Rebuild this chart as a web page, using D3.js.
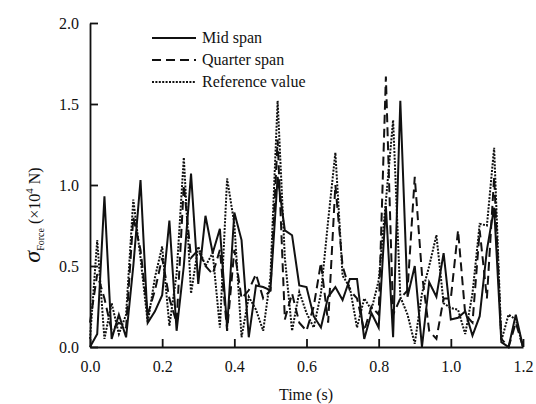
<!DOCTYPE html>
<html lang="en">
<head>
<meta charset="UTF-8" />
<title>Force deviation</title>
<script src="https://d3js.org/d3.v7.min.js"></script>
<style>
  body { margin: 0; background: #fff; }
  svg text { font-family: "Liberation Serif", "Times New Roman", serif; fill: #111; }
  .line { fill: none; stroke: #111; stroke-width: 2; stroke-linejoin: miter; }
  .axis path, .axis line { stroke: #111; stroke-width: 1.8; }
</style>
</head>
<body>
<script>
// time samples (s)
var time = [0,0.02,0.04,0.06,0.08,0.1,0.12,0.14,0.16,0.18,0.2,0.22,0.24,0.26,0.28,0.3,
  0.32,0.34,0.36,0.38,0.4,0.42,0.44,0.46,0.48,0.5,0.52,0.54,0.56,0.58,0.6,0.62,0.64,0.66,
  0.68,0.7,0.72,0.74,0.76,0.78,0.8,0.82,0.84,0.86,0.88,0.9,0.92,0.94,0.96,0.98,1,1.02,
  1.04,1.06,1.08,1.1,1.12,1.14,1.16,1.18,1.2];

// sigma of force, x10^4 N
var midSpan = [0,0.08,0.93,0.05,0.2,0.06,0.5,1.03,0.15,0.22,0.32,0.78,0.1,0.5,1.07,0.39,
  0.81,0.58,0.73,0.12,0.83,0.66,0.06,0.38,0.37,0.35,1.05,0.72,0.69,0.38,0.37,0.19,0.12,0.31,
  0.37,0.29,0.42,0.42,0.05,0.21,0.12,0.87,0.06,1.52,0.31,0.5,0,0.4,0.31,0.58,0.17,0.18,
  0.22,0.07,0.19,0.6,0.86,0.03,0,0.2,0];

var quarterSpan = [0.15,0.45,0.3,0.1,0.15,0.12,0.8,0.6,0.2,0.35,0.55,0.3,0.15,1.0,0.55,0.6,
  0.5,0.45,0.6,0.1,0.6,0.3,0.35,0.45,0.3,0.35,1.28,0.17,0.33,0.15,0.1,0.25,0.52,0.15,
  1.0,0.5,0.35,0.3,0.1,0.25,0.2,1.67,0.2,0.3,0.35,1.05,0.45,0.1,0.05,0.3,0.3,0.72,
  0.2,0.15,0.72,0.3,1.05,0.05,0,0.15,0];

var refValue = [0.05,0.66,0.05,0.27,0.08,0.2,0.91,0.55,0.15,0.43,0.62,0.13,0.45,1.17,0.33,0.62,
  0.5,0.58,0.12,1.04,0.76,0.06,0.31,0.23,0.1,0.43,1.52,0.55,0.1,0.34,0.21,0.12,0.33,0.78,
  1.2,0.44,0.37,0.12,0.3,0.23,0.41,0.9,1.4,0.31,0.2,0.02,0.33,0.5,0.69,0.27,0.24,0.23,
  0.08,0.33,0.76,0.75,1.23,0.04,0.2,0.17,0];

var xTicks = [0,0.2,0.4,0.6,0.8,1.0,1.2];
var yTicks = [0,0.5,1.0,1.5,2.0];
var legendNames = ["Mid span","Quarter span","Reference value"];

var width = 536, height = 404;
var svg = d3.select("body").append("svg").attr("width", width).attr("height", height);

var x = d3.scaleLinear().domain([0, 1.2]).range([90, 523]);
var y = d3.scaleLinear().domain([0, 2]).range([347, 23]);

var styles = [
  { data: midSpan, dash: null, w: 2 },
  { data: quarterSpan, dash: "9,5", w: 2 },
  { data: refValue, dash: "2,1.4", w: 2.2 }
];

function makeLine(vals) {
  return d3.line()
    .x(function(d, i) { return x(time[i]); })
    .y(function(d) { return y(d); })(vals);
}

// dotted first, solid on top
[2, 1, 0].forEach(function(k) {
  svg.append("path")
    .attr("class", "line")
    .attr("d", makeLine(styles[k].data))
    .attr("stroke-width", styles[k].w)
    .attr("stroke-dasharray", styles[k].dash);
});

svg.append("g").attr("class", "axis")
  .attr("transform", "translate(0,347)")
  .call(d3.axisBottom(x).tickValues(xTicks).tickFormat(d3.format(".1f"))
    .tickSizeInner(-8).tickSizeOuter(0).tickPadding(14));
svg.append("g").attr("class", "axis")
  .attr("transform", "translate(90,0)")
  .call(d3.axisLeft(y).tickValues(yTicks).tickFormat(d3.format(".1f"))
    .tickSizeInner(-8).tickSizeOuter(0).tickPadding(11));
svg.selectAll(".axis").attr("font-family", "Liberation Serif").attr("font-size", 16);
svg.selectAll(".axis text").attr("fill", "#111");

svg.append("text")
  .attr("x", 306).attr("y", 400)
  .attr("text-anchor", "middle")
  .style("font-size", "16px")
  .text("Time (s)");

// y label
var yl = svg.append("text")
  .attr("transform", "translate(40,215) rotate(-90)")
  .attr("text-anchor", "middle")
  .style("font-size", "16px");
yl.append("tspan").style("font-style", "italic").style("font-size", "24px").text("σ");
yl.append("tspan").attr("dy", 4).style("font-size", "10px").text("Force");
yl.append("tspan").attr("dy", -4).text(" (×10");
yl.append("tspan").attr("dy", -7).style("font-size", "11px").text("4");
yl.append("tspan").attr("dy", 7).text(" N)");

// legend
var lg = svg.append("g").attr("transform", "translate(152,38)");
legendNames.forEach(function(name, i) {
  lg.append("line")
    .attr("x1", 0).attr("x2", 44)
    .attr("y1", i * 22).attr("y2", i * 22)
    .attr("stroke", "#111").attr("stroke-width", styles[i].w)
    .attr("stroke-dasharray", styles[i].dash);
  lg.append("text")
    .attr("x", 50).attr("y", i * 22).attr("dy", "0.33em")
    .style("font-size", "16px")
    .text(name);
});
</script>
</body>
</html>
